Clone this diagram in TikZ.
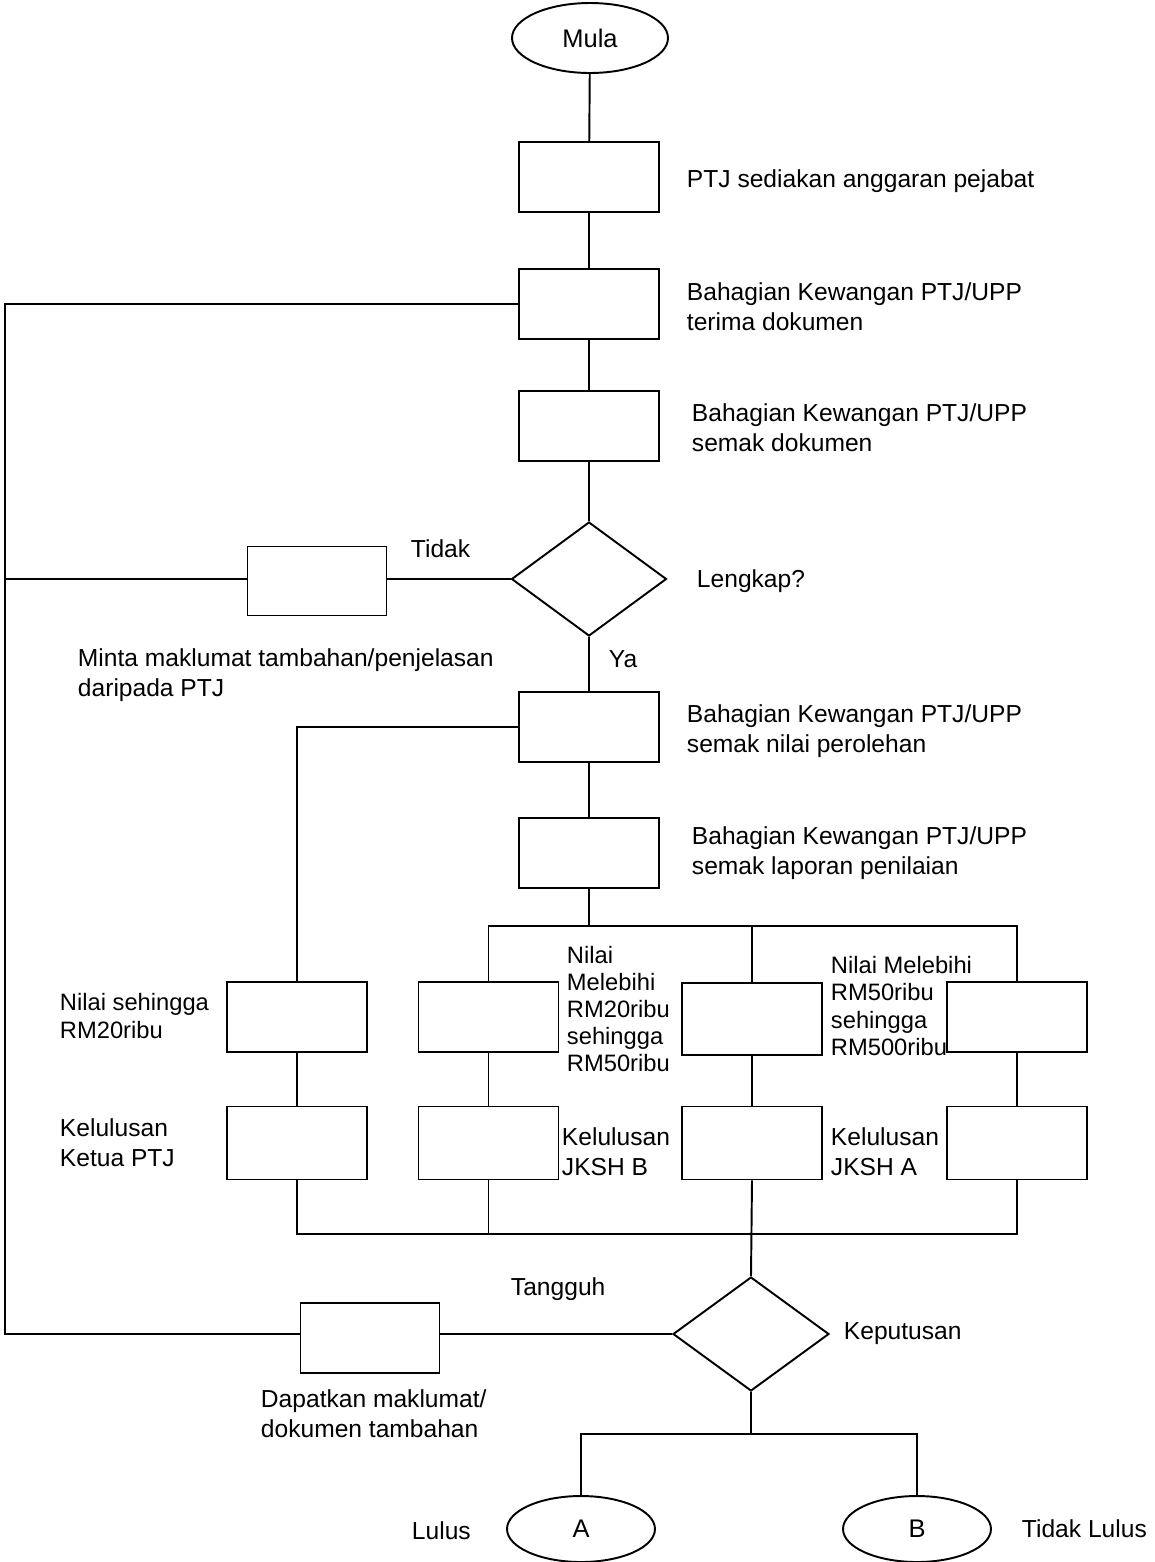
\documentclass[tikz,border=0pt]{standalone}
\usepackage{fontspec}
\setmainfont{Liberation Sans}
\usetikzlibrary{shapes.geometric}
\begin{document}
\begin{tikzpicture}[x=.02cm,y=-.02cm,line width=1.1pt,
 box/.style={draw,minimum width=2.8cm,minimum height=1.4cm,inner sep=0},
 cond/.style={draw,diamond,minimum width=3.1cm,minimum height=2.28cm,inner sep=0},
 term/.style={draw,ellipse,minimum width=2.96cm,minimum height=1.32cm,inner sep=0,font=\fontsize{14.5}{17}\selectfont},
 lbl/.style={anchor=west,align=left,inner sep=0,font=\fontsize{14}{17}\selectfont},
 sml/.style={anchor=west,align=left,inner sep=0,font=\fontsize{13.5}{15.5}\selectfont}]
\useasboundingbox (0,0) rectangle (1155,1562);
% main column
\node[term,minimum width=3.12cm,minimum height=1.4cm] (mula) at (590,38) {Mula};
\node[box] (b1) at (589,177) {};
\node[box] (b2) at (589,304) {};
\node[box] (b3) at (589,426) {};
\node[cond] (d1) at (589,579) {};
\node[box,minimum width=2.78cm,minimum height=1.38cm] (b4) at (317,581) {};
\node[box] (b5) at (589,727) {};
\node[box] (b6) at (589,853) {};
\node[lbl] (l1) at (686,181) {PTJ sediakan anggaran pejabat};
\node[lbl] (l2) at (686,307) {Bahagian Kewangan PTJ/UPP\\terima dokumen};
\node[lbl] (l3) at (691,428) {Bahagian Kewangan PTJ/UPP\\semak dokumen};
\node[lbl] (l4) at (410,549) {Tidak};
\node[lbl] (l5) at (696,581) {Lengkap?};
\node[lbl] (l6) at (77,675) {Minta maklumat tambahan/penjelasan\\daripada PTJ};
\node[lbl] (l7) at (608,659) {Ya};
\node[lbl] (l8) at (686,731) {Bahagian Kewangan PTJ/UPP\\semak nilai perolehan};
\node[lbl] (l9) at (691,853) {Bahagian Kewangan PTJ/UPP\\semak laporan penilaian};
% value ranges
\node[box] (r1a) at (297,1017) {};
\node[box] (r1b) at (488.5,1017) {};
\node[box,minimum height=1.44cm] (r1c) at (752,1019) {};
\node[box] (r1d) at (1017,1017) {};
\node[box,minimum height=1.46cm] (r2a) at (297,1143) {};
\node[box,minimum height=1.46cm] (r2b) at (488.5,1143) {};
\node[box,minimum height=1.46cm] (r2c) at (752,1143) {};
\node[box,minimum height=1.46cm] (r2d) at (1017,1143) {};
\node[sml] (n1) at (59,1016) {Nilai sehingga\\RM20ribu};
\node[sml] (n2) at (566,1009) {Nilai\\Melebihi\\RM20ribu\\sehingga\\RM50ribu};
\node[sml] (n3) at (830,1006) {Nilai Melebihi\\RM50ribu\\sehingga\\RM500ribu};
\node[lbl] (k1) at (59,1143) {Kelulusan\\Ketua PTJ};
\node[lbl] (k2) at (561,1152) {Kelulusan\\JKSH B};
\node[lbl] (k3) at (830,1152) {Kelulusan\\JKSH A};
% decision
\node[cond,minimum width=3.12cm] (d2) at (751,1334) {};
\node[box,minimum width=2.78cm] (b7) at (370,1338) {};
\node[term] (ea) at (581,1529) {A};
\node[term] (eb) at (917,1529) {B};
\node[lbl] (l10) at (510,1289) {Tangguh};
\node[lbl] (l11) at (843,1334) {Keputusan};
\node[lbl] (l12) at (260,1414) {Dapatkan maklumat/\\dokumen tambahan};
\node[lbl] (l13) at (411,1531) {Lulus};
\node[lbl] (l14) at (1021,1529) {Tidak Lulus};
\coordinate (lt) at (5,304);
\coordinate (lb) at (5,1334);
\coordinate (t1) at (589,926);
\coordinate (t2) at (752,1234);
\coordinate (t3) at (751,1434);
% connectors
\draw (mula)--(b1)--(b2)--(b3)--(d1)--(b5)--(b6)--(t1);
\draw (b2.west)--(lt)--(lb)--(b7.west|-lb);
\draw (b7.east|-d2.west)--(d2.west);
\draw (d1.west)--(b4.east|-d1.west) (b4.west|-d1.west)--(lt|-d1.west);
\draw (b5.west)-|(r1a.north);
\draw (r1b.north)|-(t1)-|(r1d.north) (r1c.north)--(r1c.north|-t1);
\draw (r1a)--(r2a) (r1b)--(r2b) (r1c)--(r2c) (r1d)--(r2d);
\draw (r2a.south)|-(t2)-|(r2d.south) (r2b.south)--(r2b.south|-t2);
\draw (r2c.south)--(d2.north) (d2.south)--(t3);
\draw (ea.north)|-(t3)-|(eb.north);
\end{tikzpicture}
\end{document}
